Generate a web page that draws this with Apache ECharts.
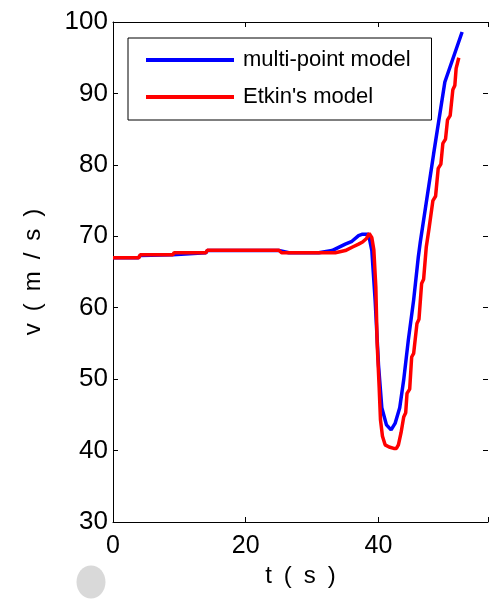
<!DOCTYPE html>
<html>
<head>
<meta charset="utf-8">
<script src="https://cdn.jsdelivr.net/npm/echarts@6/dist/echarts.min.js"></script>
<style>
html,body{margin:0;padding:0;background:#fff;}
#chart{width:491px;height:599px;}
</style>
</head>
<body>
<div id="chart"></div>
<script>
// ---- data ----
const seriesNames = ["multi-point model", "Etkin's model"];
const xTicks = [0, 20, 40];
const yTicks = [30, 40, 50, 60, 70, 80, 90, 100];

const tMulti = [0, 3.8, 4.1, 9.0, 9.2, 14.0, 14.2, 25.0, 26.5, 31.0, 33.0, 35.0, 36.0, 37.0, 37.6, 38.5, 39.0, 39.5, 40.0, 40.5, 41.2, 41.9, 42.5, 43.2, 43.8, 44.5, 45.3, 46.0, 46.3, 48.3, 50.0, 51.3, 52.6];
const vMulti = [67.0, 67.0, 67.3, 67.4, 67.6, 67.7, 68.0, 68.0, 67.7, 67.7, 68.0, 68.9, 69.3, 70.1, 70.3, 70.3, 68.0, 61.0, 52.0, 46.0, 43.6, 42.9, 43.8, 46.0, 49.9, 55.5, 61.1, 67.1, 69.2, 81.5, 91.6, 95.1, 98.6];

const tEtkin = [0, 3.9, 4.1, 9.0, 9.2, 14.0, 14.2, 25.0, 25.4, 33.5, 34.0, 35.0, 36.1, 37.0, 37.6, 38.2, 38.6, 39.0, 39.3, 39.6, 39.8, 40.1, 40.3, 40.6, 41.0, 41.6, 42.3, 42.7, 43.0, 43.4, 43.8, 44.1, 44.3, 44.7, 45.0, 45.3, 45.8, 46.1, 46.5, 46.8, 47.2, 47.6, 48.2, 48.6, 49.0, 49.4, 49.7, 50.1, 50.4, 50.8, 51.2, 51.5, 51.7, 52.1];
const vEtkin = [67.0, 67.0, 67.4, 67.4, 67.7, 67.7, 68.05, 68.05, 67.7, 67.7, 67.8, 68.0, 68.5, 68.9, 69.2, 69.7, 70.4, 69.8, 68.1, 62.9, 55.0, 48.9, 44.3, 42.0, 40.8, 40.5, 40.3, 40.3, 40.8, 42.5, 44.7, 45.3, 48.0, 48.6, 53.1, 53.6, 57.8, 58.4, 63.4, 64.0, 68.5, 71.0, 75.0, 75.6, 79.5, 80.1, 83.0, 83.6, 86.3, 86.9, 90.5, 91.1, 93.5, 95.0];

const FONT = "'Liberation Sans', Arial, sans-serif";
const toPairs = (ts, vs) => ts.map((t, i) => [t, vs[i]]);

const chart = echarts.init(document.getElementById('chart'), null, {renderer: 'canvas'});

const baseX = {
  type: 'value', min: 0, max: 56.5, interval: 20,
  axisLine: {show: true, onZero: false, lineStyle: {color: '#000', width: 1}},
  axisTick: {show: true, inside: true, length: 5, lineStyle: {color: '#000'}},
  splitLine: {show: false}
};
const baseY = {
  type: 'value', min: 30, max: 100, interval: 10,
  axisLine: {show: true, onZero: false, lineStyle: {color: '#000', width: 1}},
  axisTick: {show: true, inside: true, length: 5, lineStyle: {color: '#000'}},
  splitLine: {show: false}
};

const option = {
  backgroundColor: '#fff',
  animation: false,
  grid: {left: 113, right: -3, top: 22, bottom: 77, containLabel: false},
  legend: {
    orient: 'vertical', left: 128, top: 38,
    padding: [11, 21, 12, 18],
    itemGap: 15,
    itemWidth: 88, itemHeight: 4,
    icon: 'rect',
    borderColor: '#000', borderWidth: 1,
    backgroundColor: '#fff',
    textStyle: {fontFamily: FONT, fontSize: 22, color: '#000', padding: [0, 0, 0, 4]},
    data: seriesNames
  },
  xAxis: [
    Object.assign({}, baseX, {
      position: 'bottom',
      name: 't\u2002(\u2002s\u2002)', nameLocation: 'middle', nameGap: 40,
      nameTextStyle: {fontFamily: FONT, fontSize: 24, color: '#000'},
      axisLabel: {show: true, margin: 12, fontFamily: FONT, fontSize: 25, color: '#000',
        formatter: v => xTicks.includes(v) ? String(v) : ''}
    }),
    Object.assign({}, baseX, {position: 'top', axisLabel: {show: false}})
  ],
  yAxis: [
    Object.assign({}, baseY, {
      position: 'left',
      name: 'v\u2002(\u2002m\u2002/\u2002s\u2002)', nameLocation: 'middle', nameGap: 68, nameRotate: 90,
      nameTextStyle: {fontFamily: FONT, fontSize: 24, color: '#000'},
      axisLabel: {show: true, margin: 5, fontFamily: FONT, fontSize: 26, color: '#000',
        formatter: v => yTicks.includes(v) ? String(v) : ''}
    }),
    Object.assign({}, baseY, {position: 'right', axisLine: {show: false, onZero: false}, axisLabel: {show: false}})
  ],
  graphic: [{
    type: 'ellipse', shape: {cx: 91, cy: 582, rx: 14.5, ry: 16.5},
    style: {fill: '#d9d9d9'}, z: 100
  }],
  series: [
    {name: seriesNames[0], type: 'line', xAxisIndex: 0, yAxisIndex: 0,
     data: toPairs(tMulti, vMulti), showSymbol: false, symbol: 'none',
     color: '#0000ff', lineStyle: {color: '#0000ff', width: 3.5}, z: 2},
    {name: seriesNames[1], type: 'line', xAxisIndex: 0, yAxisIndex: 0,
     data: toPairs(tEtkin, vEtkin), showSymbol: false, symbol: 'none',
     color: '#ff0000', lineStyle: {color: '#ff0000', width: 3.5}, z: 3}
  ]
};
chart.setOption(option);
</script>
</body>
</html>
